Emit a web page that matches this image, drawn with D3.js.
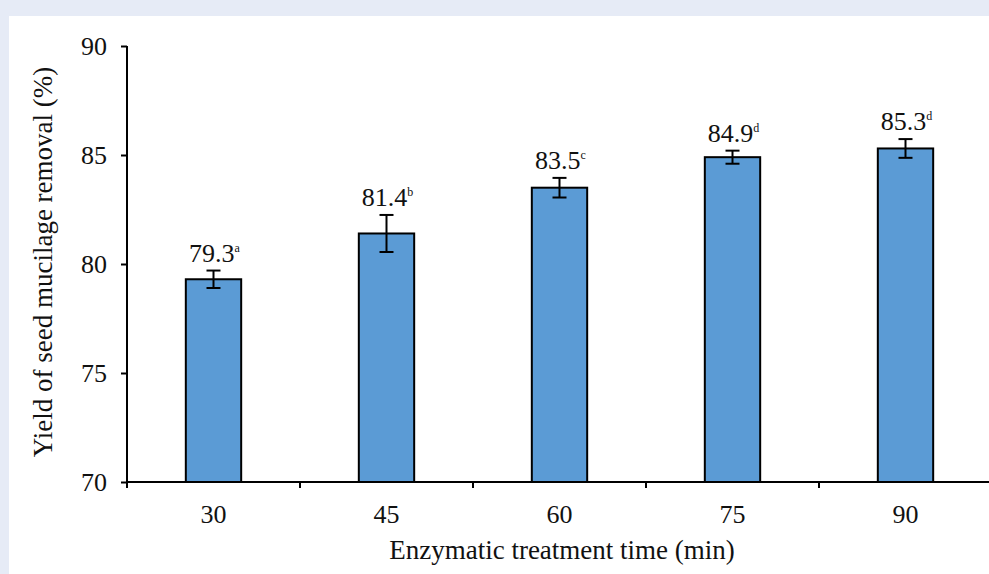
<!DOCTYPE html>
<html>
<head>
<meta charset="utf-8">
<script src="https://cdn.jsdelivr.net/npm/d3@7"></script>
<style>
  body { margin: 0; background: #e6ebf6; }
  svg { display: block; font-family: "Liberation Serif", "Times New Roman", serif; }
</style>
</head>
<body>
<svg width="989" height="574"></svg>
<script>
var categories = ['30', '45', '60', '75', '90'];
var values = [79.3, 81.4, 83.5, 84.9, 85.3];
var errors = [0.4, 0.85, 0.45, 0.3, 0.43];
var letters = ['a', 'b', 'c', 'd', 'd'];
var yTicks = [70, 75, 80, 85, 90];

var svg = d3.select('svg');

// white panel
svg.append('rect')
  .attr('x', 9).attr('y', 16)
  .attr('width', 980).attr('height', 558)
  .attr('fill', '#fff');

var x = d3.scaleBand()
  .domain(categories)
  .range([127, 992])
  .paddingInner(0.68)
  .paddingOuter(0.34);

var y = d3.scaleLinear()
  .domain([70, 90])
  .range([482, 46]);

// bars
svg.append('g').selectAll('rect')
  .data(values)
  .enter().append('rect')
  .attr('x', function(d, i) { return x(categories[i]); })
  .attr('y', function(d) { return y(d); })
  .attr('width', x.bandwidth())
  .attr('height', function(d) { return y(70) - y(d); })
  .attr('fill', '#5b9bd5')
  .attr('stroke', '#000')
  .attr('stroke-width', 2);

// error bars
var eb = svg.append('g').attr('stroke', '#000').attr('stroke-width', 2);
values.forEach(function(v, i) {
  var cx = x(categories[i]) + x.bandwidth() / 2;
  eb.append('line').attr('x1', cx).attr('x2', cx)
    .attr('y1', y(v + errors[i])).attr('y2', y(v - errors[i]));
  [v + errors[i], v - errors[i]].forEach(function(e) {
    eb.append('line').attr('x1', cx - 7).attr('x2', cx + 7)
      .attr('y1', y(e)).attr('y2', y(e));
  });
});

// value labels
var lab = svg.append('g');
values.forEach(function(v, i) {
  var cx = x(categories[i]) + x.bandwidth() / 2;
  var t = lab.append('text')
    .attr('x', cx + 1)
    .attr('y', y(v + errors[i]) - 9)
    .attr('text-anchor', 'middle')
    .attr('font-size', 26)
    .attr('fill', '#111');
  t.append('tspan').text(v.toFixed(1));
  t.append('tspan').attr('font-size', 12).attr('dy', -10).text(letters[i]);
});

// y axis
var yAxis = d3.axisLeft(y).tickValues(yTicks).tickSize(6).tickPadding(14);
var gy = svg.append('g').attr('transform', 'translate(127,0)').call(yAxis);
gy.select('.domain').attr('stroke-width', 2).attr('d', 'M0,46V483');
gy.selectAll('.tick line').attr('stroke-width', 2);
gy.selectAll('.tick text').attr('font-size', 26).attr('font-family', 'Liberation Serif').attr('fill', '#111');

// x axis (ticks between categories)
var gx = svg.append('g').attr('transform', 'translate(0,482)');
gx.append('line').attr('x1', 126).attr('x2', 992).attr('stroke', '#000').attr('stroke-width', 2);
var bounds = [127].concat(categories.map(function(c) { return x(c) + x.bandwidth() + x.step() * x.paddingInner() / 2; }));
gx.selectAll('.tk').data(bounds).enter().append('line')
  .attr('x1', function(d) { return d; }).attr('x2', function(d) { return d; })
  .attr('y1', 0).attr('y2', 6)
  .attr('stroke', '#000').attr('stroke-width', 2);
gx.selectAll('text').data(categories).enter().append('text')
  .attr('x', function(d) { return x(d) + x.bandwidth() / 2; })
  .attr('y', 41)
  .attr('text-anchor', 'middle')
  .attr('font-size', 26)
  .attr('fill', '#111')
  .text(function(d) { return d; });

// titles
svg.append('text')
  .attr('x', 562).attr('y', 559)
  .attr('text-anchor', 'middle')
  .attr('font-size', 27)
  .attr('fill', '#111')
  .text('Enzymatic treatment time (min)');

svg.append('text')
  .attr('transform', 'translate(52,262) rotate(-90)')
  .attr('text-anchor', 'middle')
  .attr('font-size', 27)
  .attr('fill', '#111')
  .text('Yield of seed mucilage removal (%)');
</script>
</body>
</html>
